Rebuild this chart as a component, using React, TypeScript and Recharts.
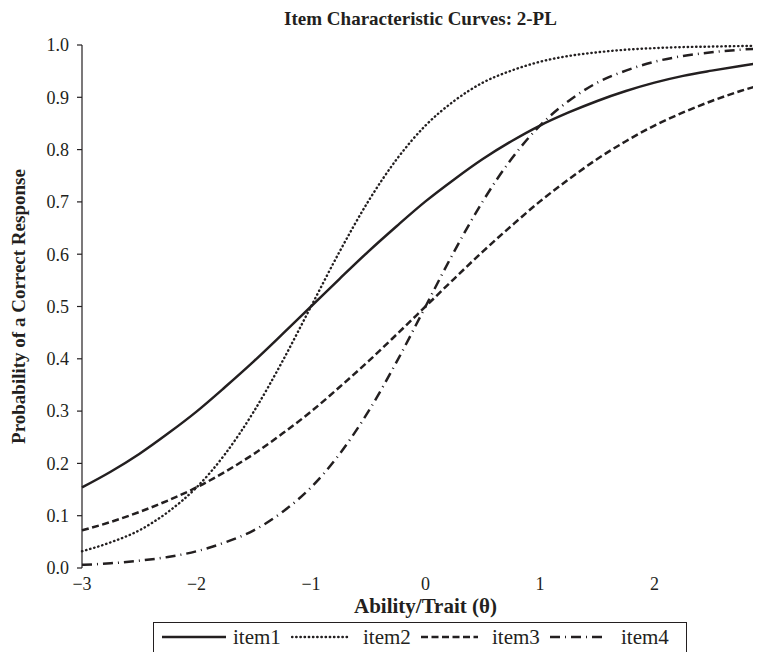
import React from 'react';
import { LineChart, Line, XAxis, YAxis, Legend } from 'recharts';

const thetas = [-3, -2.75, -2.5, -2.25, -2, -1.75, -1.5, -1.25, -1, -0.75, -0.5, -0.25, 0, 0.25, 0.5, 0.75, 1, 1.25, 1.5, 1.75, 2, 2.25, 2.5, 2.75, 3];
const item1 = [0.154, 0.184, 0.218, 0.257, 0.299, 0.346, 0.395, 0.447, 0.5, 0.553, 0.605, 0.654, 0.701, 0.743, 0.782, 0.816, 0.846, 0.871, 0.893, 0.912, 0.928, 0.941, 0.951, 0.96, 0.968];
const item2 = [0.032, 0.049, 0.072, 0.107, 0.154, 0.218, 0.299, 0.395, 0.5, 0.605, 0.701, 0.782, 0.846, 0.893, 0.928, 0.951, 0.968, 0.979, 0.986, 0.991, 0.994, 0.996, 0.997, 0.998, 0.999];
const item3 = [0.072, 0.088, 0.107, 0.129, 0.154, 0.184, 0.218, 0.257, 0.299, 0.346, 0.395, 0.447, 0.5, 0.553, 0.605, 0.654, 0.701, 0.743, 0.782, 0.816, 0.846, 0.871, 0.893, 0.912, 0.928];
const item4 = [0.006, 0.009, 0.014, 0.021, 0.032, 0.049, 0.072, 0.107, 0.154, 0.218, 0.299, 0.395, 0.5, 0.605, 0.701, 0.782, 0.846, 0.893, 0.928, 0.951, 0.968, 0.979, 0.986, 0.991, 0.994];

const xTicks = [-3, -2, -1, 0, 1, 2, 3];
const yTicks = [0, 0.1, 0.2, 0.3, 0.4, 0.5, 0.6, 0.7, 0.8, 0.9, 1.0];

const seriesNames = ['item1', 'item2', 'item3', 'item4'];
const seriesDash = ['', '0.4 3.8', '7 3.5', '10 5 1 5'];
const seriesWidth = [2.5, 2.4, 2.5, 2.5];
const seriesCap: ('butt' | 'round')[] = ['butt', 'round', 'butt', 'butt'];

const data = thetas.map((t, i) => ({ theta: t, item1: item1[i], item2: item2[i], item3: item3[i], item4: item4[i] }));

const FONT = '"Liberation Serif", "Times New Roman", serif';
const INK = '#231f20';

const W = 800;
const H = 644;
const M = { top: 37, right: 39, bottom: 54, left: 30 };
const Y_AXIS_W = 44;

const legendLineW = [66, 59, 59, 58];
const legendLineGap = [6, 13, 13, 14];
const legendTextW = [50, 50, 50, 50];
const legendAfterText = [8, 7, 7, 0];

const LegendBox = () => (
  <div style={{ border: `1.5px solid ${INK}`, display: 'flex', alignItems: 'center', height: 38, padding: '0 0 8px 7px', boxSizing: 'border-box', fontFamily: FONT, fontSize: 21, color: INK, background: '#fff' }}>
    {seriesNames.map((n, i) => (
      <span key={n} style={{ display: 'flex', alignItems: 'center', marginRight: legendAfterText[i] }}>
        <svg width={legendLineW[i]} height={10} style={{ marginRight: legendLineGap[i] }}>
          <line x1={1} y1={5} x2={legendLineW[i] - 1} y2={5} stroke={INK} strokeWidth={seriesWidth[i]} strokeLinecap={seriesCap[i]} strokeDasharray={seriesDash[i] || undefined} />
        </svg>
        <span style={{ display: 'inline-block', width: legendTextW[i], whiteSpace: 'nowrap', fontFamily: FONT }}>{n}</span>
      </span>
    ))}
  </div>
);

export default function App() {
  return (
    <div style={{ width: 753, height: 644, overflow: 'hidden', position: 'relative' }}>
      <LineChart width={W} height={H} data={data} margin={M}>
        <text x={M.left + Y_AXIS_W + (W - M.left - Y_AXIS_W - M.right) / 2 - 5} y={17} textAnchor="middle" fontFamily={FONT} fontSize={19} fontWeight="bold" fill={INK}>
          Item Characteristic Curves: 2-PL
        </text>
        <XAxis
          dataKey="theta"
          type="number"
          domain={[-3, 3]}
          ticks={xTicks}
          tickFormatter={(v: number) => (v < 0 ? '\u2212' + Math.abs(v) : String(v))}
          axisLine={false}
          tickLine={false}
          tick={{ fontFamily: FONT, fontSize: 18, fill: INK }}
          tickMargin={3}
          height={30}
          label={{ value: 'Ability/Trait (\u03b8)', position: 'insideBottom', offset: -15, fontFamily: FONT, fontSize: 21, fontWeight: 'bold', fill: INK }}
        />
        <YAxis
          type="number"
          domain={[0, 1]}
          ticks={yTicks}
          tickFormatter={(v: number) => v.toFixed(1)}
          width={Y_AXIS_W}
          axisLine={{ stroke: INK, strokeWidth: 1.2 }}
          tickLine={{ stroke: INK, strokeWidth: 1.2 }}
          tickSize={5}
          tickMargin={8}
          tick={{ fontFamily: FONT, fontSize: 18, fill: INK }}
          label={{ value: 'Probability of a Correct Response', angle: -90, position: 'insideLeft', offset: -20, style: { textAnchor: 'middle' }, fontFamily: FONT, fontSize: 19, fontWeight: 'bold', fill: INK }}
        />
        <Legend verticalAlign="middle" layout="horizontal" wrapperStyle={{ position: 'absolute', left: 145, top: 614, width: 534 }} content={() => <LegendBox />} />
        {seriesNames.map((n, i) => (
          <Line key={n} type="monotone" dataKey={n} name={n} stroke={INK} strokeWidth={seriesWidth[i]} strokeLinecap={seriesCap[i]} strokeDasharray={seriesDash[i] || undefined} dot={false} activeDot={false} isAnimationActive={false} />
        ))}
      </LineChart>
    </div>
  );
}
